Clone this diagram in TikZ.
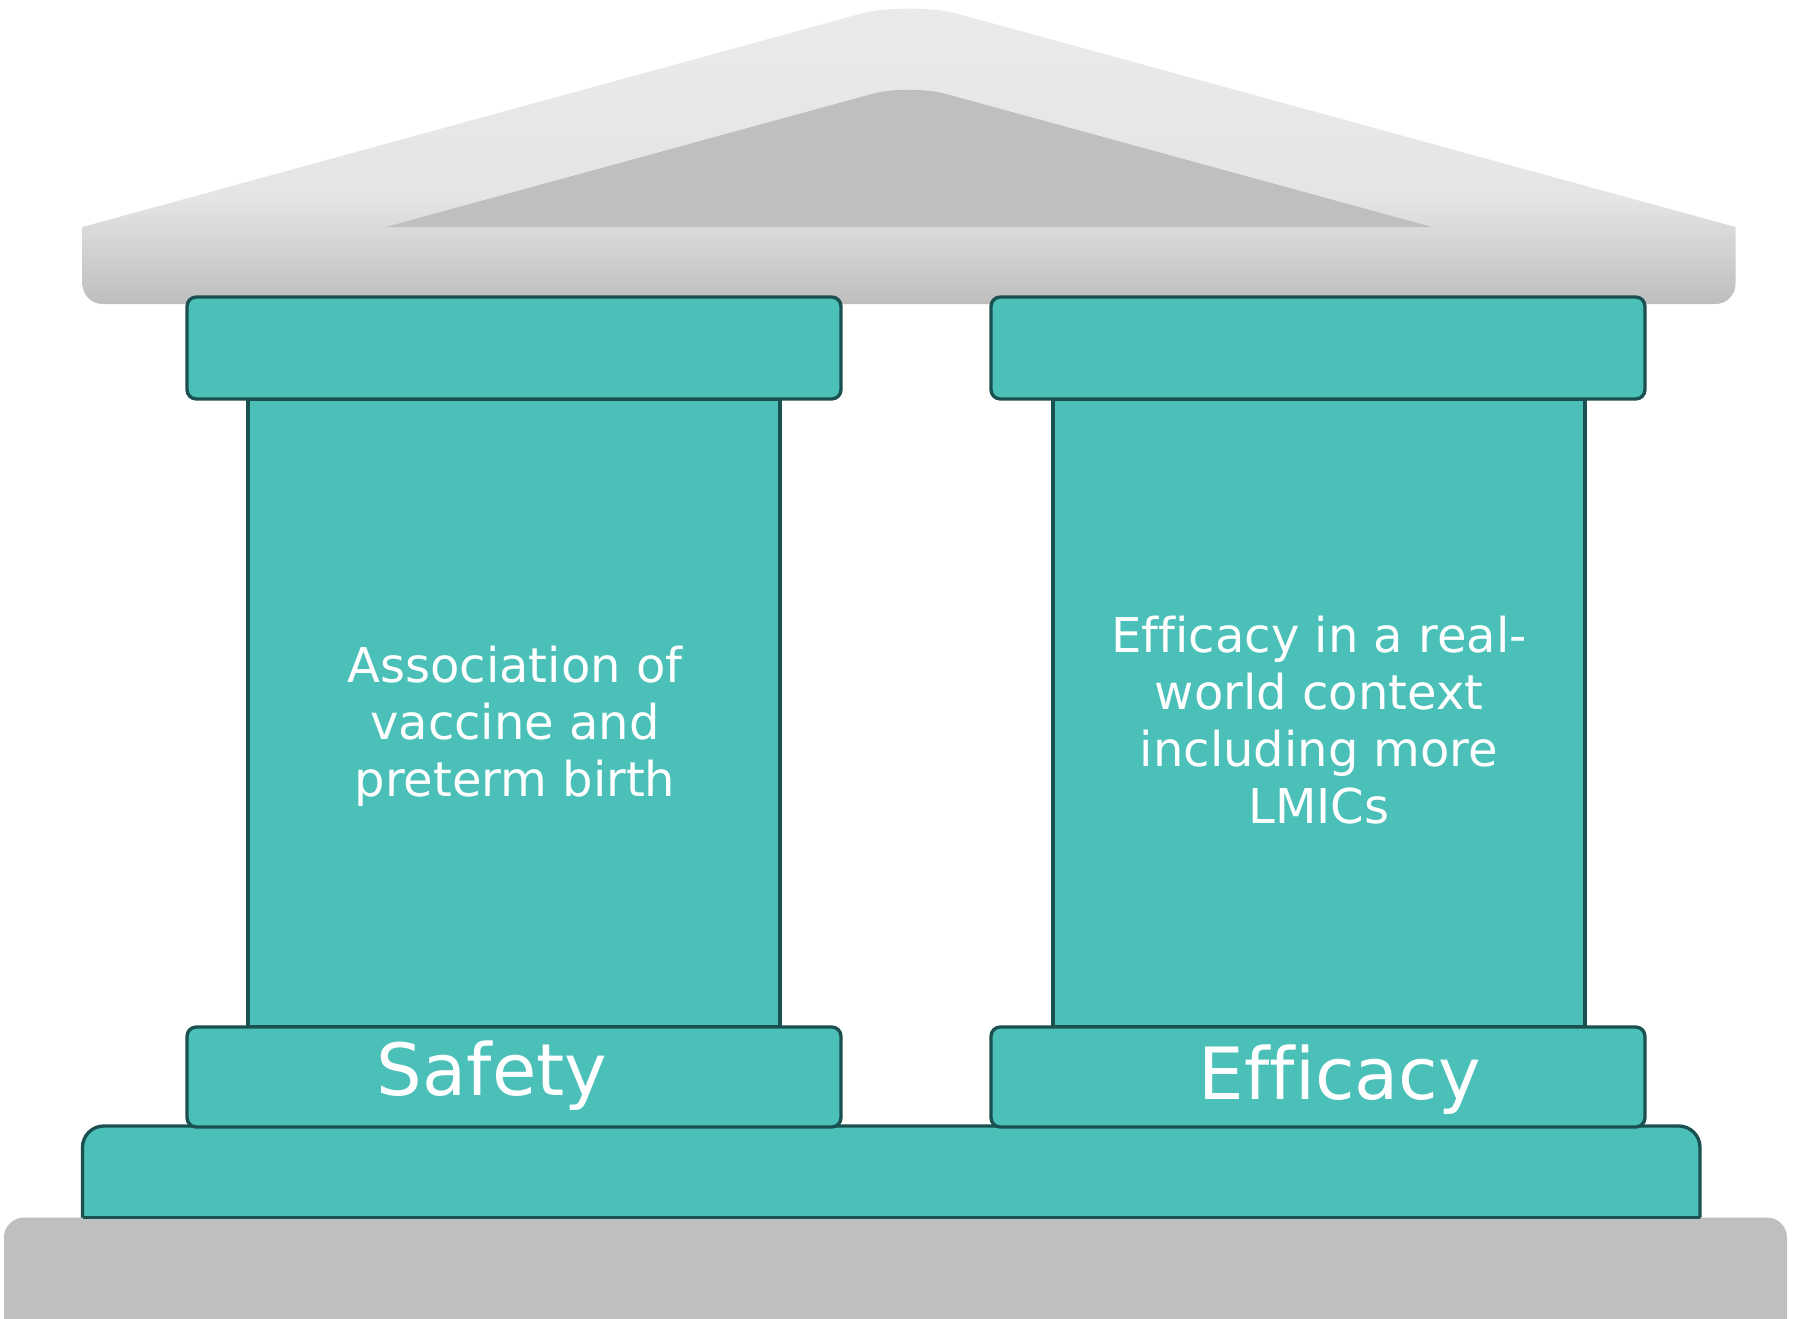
\documentclass[tikz,border=0pt]{standalone}
\usepackage{fontspec}
\setmainfont[Ligatures=NoCommon]{DejaVu Sans}
\newcommand{\nolig}{\kern0pt{}}
\definecolor{tealfill}{HTML}{4AC0B9}
\definecolor{tealline}{HTML}{1A5050}
\definecolor{greybase}{HTML}{BFBFBF}
\definecolor{rooftop}{HTML}{EAEAEA}
\definecolor{roofmid}{HTML}{E5E5E5}
\definecolor{roofbot}{HTML}{BEBEBE}
\pgfdeclareverticalshading{roofshade}{100bp}{color(0bp)=(roofbot); color(25bp)=(roofbot); color(43bp)=(roofmid); color(75bp)=(rooftop); color(100bp)=(rooftop)}
\tikzset{
  part/.style={fill=tealfill, draw=tealline, line width=2.5pt},
  partround/.style={part, rounded corners=7pt},
  bodytext/.style={text=white, align=center, inner sep=0pt, font=\fontsize{36}{42.75}\selectfont},
  titletext/.style={text=white, inner sep=0pt, font=\fontsize{54}{60}\selectfont},
}
\begin{document}
\begin{tikzpicture}[x=0.75pt,y=-0.75pt]
\useasboundingbox (0,0) rectangle (1793,1318);
\clip (0,0) rectangle (1793,1318);

% roof
\shade[shading=roofshade] (82.5,227) -- (861,13.6) .. controls (885,7) and (933,7) .. (957,13.6)
  -- (1735.5,227) -- (1735.5,284) .. controls (1735.5,295) and (1726.5,304) .. (1715.5,304)
  -- (102.5,304) .. controls (91.5,304) and (82.5,295) .. (82.5,284) -- cycle;
\fill[greybase] (386,227) -- (874,93.4) .. controls (891.5,88.6) and (926.5,88.6) .. (944,93.4)
  -- (1432,227) -- cycle;

% stylobate and ground
\draw[part, rounded corners=16pt] (82.5,1126) rectangle (1700,1270);
\fill[greybase, rounded corners=15pt] (4,1217.5) rectangle (1787,1380);
\draw[tealline, line width=2.5pt] (82.5,1217.5) -- (1700,1217.5);

% left column
\draw[part] (248,399) rectangle (780,1027);
\draw[partround] (187,297) rectangle (841,399);
\draw[partround] (187,1027) rectangle (841,1127);

% right column
\draw[part] (1053,399) rectangle (1585,1027);
\draw[partround] (991,297) rectangle (1645,399);
\draw[partround] (991,1027) rectangle (1645,1127);

% texts
\node[bodytext] (safetytext) at (515,726.7) {Association of\\vaccine and\\preterm birth};
\node[bodytext] (efficacytext) at (1319,720) {Ef\nolig f\nolig icacy in a real-\\world context\\including more\\LMICs};
\node[titletext, anchor=base] (safety) at (492,1095) {Safety};
\node[titletext, anchor=base] (efficacy) at (1340,1099) {Ef\nolig f\nolig icacy};
\end{tikzpicture}
\end{document}
